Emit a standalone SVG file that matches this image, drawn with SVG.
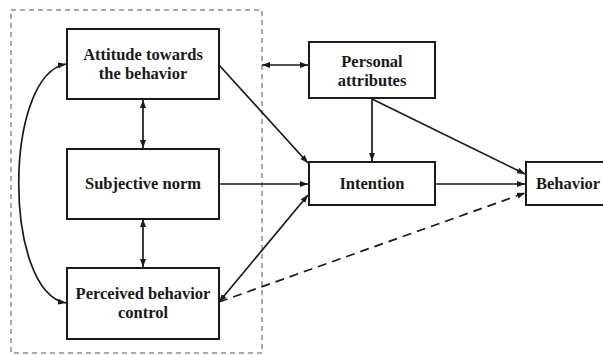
<svg xmlns="http://www.w3.org/2000/svg" width="603" height="355" viewBox="0 0 603 355">
<style>
.box{fill:#fff;stroke:#1a1a1a;stroke-width:2}
.t{font-family:"Liberation Serif","Times New Roman",serif;font-weight:bold;font-size:16.5px;fill:#1a1a1a;text-anchor:middle}
.c{fill:none;stroke:#1a1a1a;stroke-width:1.7}
.d{stroke-dasharray:9,6}
</style>
<defs>
<marker id="ah" viewBox="0 0 8 6" refX="8" refY="3" markerWidth="8" markerHeight="6" markerUnits="userSpaceOnUse" orient="auto-start-reverse">
<path d="M0,0 L8,3 L0,6 Z" fill="#1a1a1a"/>
</marker>
</defs>
<rect x="11" y="10" width="251" height="343" fill="none" stroke="#555" stroke-width="1" stroke-dasharray="5,4"/>
<g id="connectors">
<path class="c" d="M66,64 C3,75 3,292 66,303" marker-start="url(#ah)" marker-end="url(#ah)"/>
<line class="c" x1="143" y1="100" x2="143" y2="148" marker-start="url(#ah)" marker-end="url(#ah)"/>
<line class="c" x1="143" y1="219" x2="143" y2="267" marker-start="url(#ah)" marker-end="url(#ah)"/>
<line class="c" x1="219" y1="65" x2="308" y2="163" marker-end="url(#ah)"/>
<line class="c" x1="219" y1="184" x2="308" y2="184" marker-end="url(#ah)"/>
<line class="c" x1="219" y1="302" x2="308" y2="195" marker-start="url(#ah)" marker-end="url(#ah)"/>
<line class="c d" x1="219" y1="302" x2="525" y2="193" marker-end="url(#ah)"/>
<line class="c" x1="435" y1="184" x2="525" y2="184" marker-end="url(#ah)"/>
<line class="c" x1="372" y1="99" x2="372" y2="161" marker-end="url(#ah)"/>
<line class="c" x1="372" y1="99" x2="525" y2="174" marker-end="url(#ah)"/>
<line class="c" x1="262" y1="65" x2="308" y2="65" marker-start="url(#ah)" marker-end="url(#ah)"/>
</g>
<g id="attitude">
<rect class="box" x="67" y="29" width="152" height="70"/>
<text class="t" x="143" y="60">Attitude towards</text>
<text class="t" x="143" y="79">the behavior</text>
</g>
<g id="subjective">
<rect class="box" x="67" y="149" width="152" height="70"/>
<text class="t" x="143" y="189">Subjective norm</text>
</g>
<g id="perceived">
<rect class="box" x="67" y="268" width="152" height="71"/>
<text class="t" x="143" y="299">Perceived behavior</text>
<text class="t" x="143" y="318">control</text>
</g>
<g id="personal">
<rect class="box" x="309" y="42" width="126" height="56"/>
<text class="t" x="372" y="67">Personal</text>
<text class="t" x="372" y="86">attributes</text>
</g>
<g id="intention">
<rect class="box" x="309" y="162" width="126" height="43"/>
<text class="t" x="372" y="189">Intention</text>
</g>
<g id="behavior">
<rect class="box" x="526" y="162" width="90" height="43"/>
<text class="t" x="568" y="189">Behavior</text>
</g>
</svg>
